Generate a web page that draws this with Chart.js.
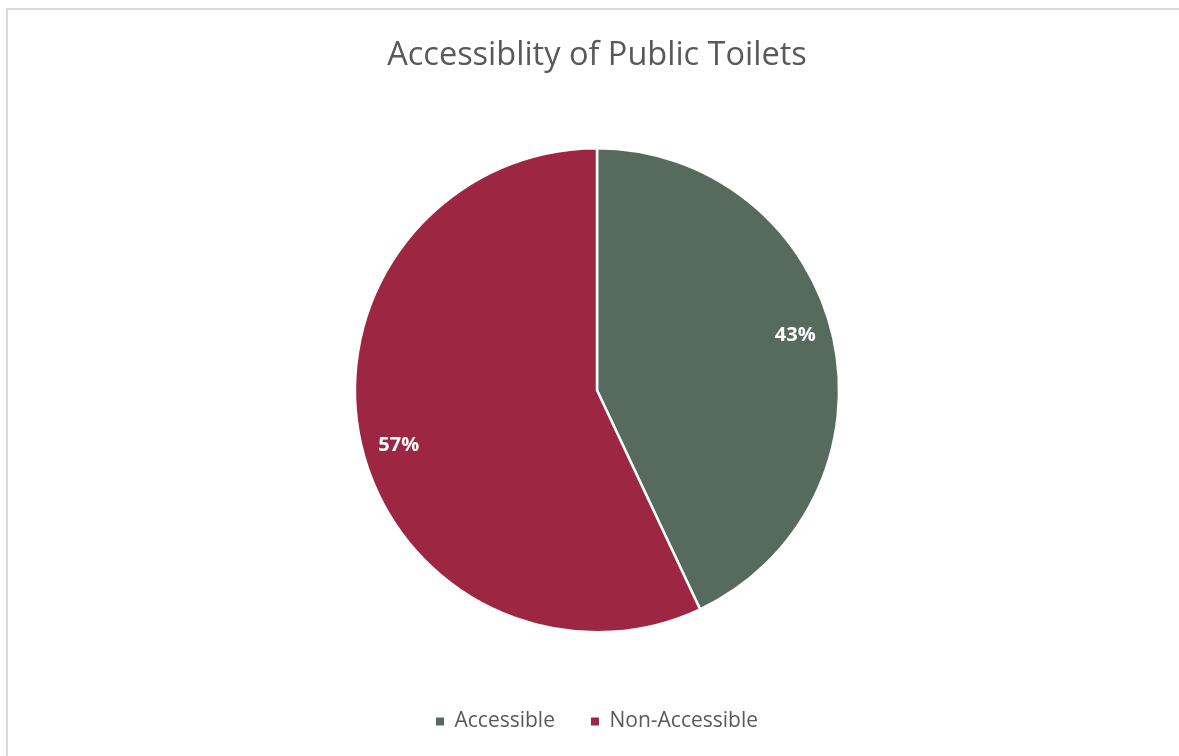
<!DOCTYPE html>
<html>
<head>
<meta charset="utf-8">
<script src="https://cdn.jsdelivr.net/npm/chart.js@4.4.1/dist/chart.umd.min.js"></script>
<style>
  html, body { margin: 0; padding: 0; background: #ffffff; }
  #frame { position: absolute; left: 6px; top: 8px; width: 1200px; height: 800px; border: 2px solid #d9d9d9; box-sizing: border-box; }
  #wrap { position: absolute; left: 0; top: 0; width: 1179px; height: 756px; }
</style>
</head>
<body>
<div id="frame"></div>
<div id="wrap"><canvas id="c" width="1179" height="756"></canvas></div>
<script>
const categories = ["Accessible", "Non-Accessible"];
const shares = [43, 57];
const sliceColors = ["#566B5D", "#9D2743"];
const chartTitle = "Accessiblity of Public Toilets";

const labelPlugin = {
  id: 'sliceLabels',
  afterDatasetsDraw(chart) {
    const ctx = chart.ctx;
    const meta = chart.getDatasetMeta(0);
    const total = shares.reduce((a, b) => a + b, 0);
    ctx.save();
    ctx.fillStyle = '#ffffff';
    ctx.font = 'bold 20px "Open Sans"';
    ctx.textAlign = 'center';
    ctx.textBaseline = 'middle';
    meta.data.forEach((arc, i) => {
      const p = arc.getProps(['x', 'y', 'startAngle', 'endAngle', 'outerRadius'], true);
      const mid = (p.startAngle + p.endAngle) / 2 - 0.05;
      const r = p.outerRadius * 0.85;
      const pct = Math.round(shares[i] / total * 100) + '%';
      ctx.fillText(pct, p.x + Math.cos(mid) * r, p.y + Math.sin(mid) * r);
    });
    ctx.restore();
  }
};

new Chart(document.getElementById('c'), {
  type: 'pie',
  data: {
    labels: categories,
    datasets: [{
      data: shares,
      backgroundColor: sliceColors,
      borderColor: '#ffffff',
      borderWidth: 2.5
    }]
  },
  options: {
    responsive: false,
    animation: false,
    layout: { padding: { left: 15, right: 0, top: 0, bottom: 14 } },
    plugins: {
      title: {
        display: true,
        text: chartTitle,
        color: '#595959',
        font: { family: 'Open Sans', size: 32.5, weight: 'normal' },
        padding: { top: 36, bottom: 72 }
      },
      legend: {
        position: 'bottom',
        title: {
          display: true,
          text: ' ',
          font: { size: 12 },
          padding: { top: 27, bottom: 0 }
        },
        labels: {
          color: '#595959',
          font: { family: 'Open Sans', size: 21 },
          boxWidth: 8,
          boxHeight: 8,
          padding: 36,
          generateLabels(chart) {
            const items = Chart.overrides.pie.plugins.legend.labels.generateLabels(chart);
            items.forEach(it => { it.lineWidth = 0; it.strokeStyle = 'rgba(0,0,0,0)'; });
            return items;
          }
        }
      },
      tooltip: { enabled: false }
    }
  },
  plugins: [labelPlugin]
});
</script>
</body>
</html>
